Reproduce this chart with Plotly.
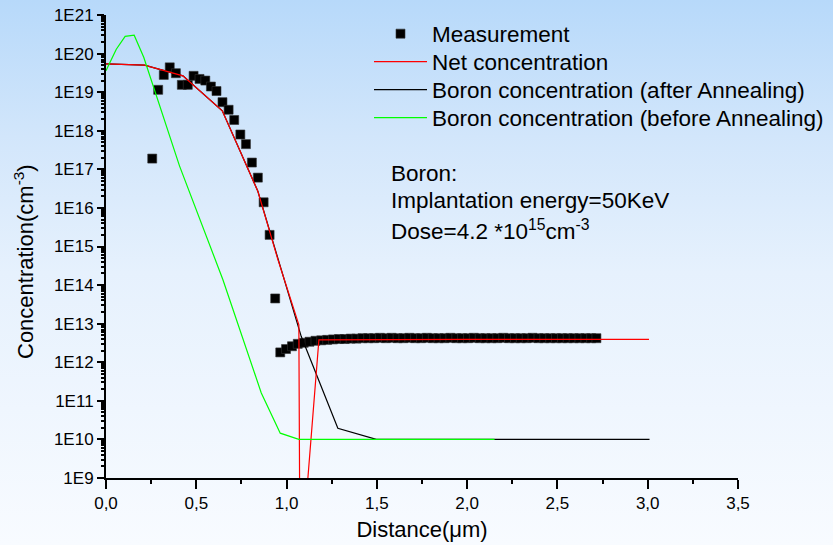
import base64
import plotly.graph_objects as go

# ---- measured profile (spreading resistance) ----
meas_x = [0.256, 0.289, 0.320, 0.353, 0.387, 0.420, 0.453, 0.485, 0.518, 0.550,
          0.581, 0.612, 0.645, 0.679, 0.710, 0.744, 0.775, 0.808, 0.841, 0.873,
          0.906, 0.937, 0.965, 0.997, 1.030, 1.062, 1.095, 1.127, 1.160, 1.192,
          1.225, 1.257, 1.290, 1.322, 1.355, 1.387, 1.420, 1.452, 1.485, 1.517,
          1.550, 1.582, 1.615, 1.647, 1.680, 1.712, 1.745, 1.777, 1.810, 1.842,
          1.875, 1.907, 1.940, 1.972, 2.005, 2.037, 2.070, 2.102, 2.135, 2.167,
          2.200, 2.232, 2.265, 2.297, 2.330, 2.362, 2.395, 2.427, 2.460, 2.492,
          2.525, 2.557, 2.590, 2.622, 2.655, 2.687, 2.716]
meas_y = [1.9e17, 1.15e19, 2.8e19, 4.4e19, 3.1e19, 1.55e19, 1.55e19, 2.65e19, 2.2e19, 2.0e19,
          1.4e19, 1.07e19, 5.5e18, 3.5e18, 1.9e18, 8.0e17, 4.5e17, 1.5e17, 6.1e16, 1.4e16,
          2.0e15, 4.5e13, 1.8e12, 2.2e12, 2.6e12, 3.0e12, 3.2e12, 3.4e12, 3.6e12, 3.7e12,
          3.8e12, 3.9e12, 4.0e12, 4.0e12, 4.1e12, 4.1e12, 4.2e12, 4.2e12, 4.2e12, 4.3e12,
          4.2e12, 4.3e12, 4.2e12, 4.2e12, 4.3e12, 4.2e12, 4.2e12, 4.3e12, 4.2e12, 4.2e12,
          4.2e12, 4.3e12, 4.2e12, 4.2e12, 4.2e12, 4.3e12, 4.2e12, 4.2e12, 4.2e12, 4.2e12,
          4.3e12, 4.2e12, 4.2e12, 4.2e12, 4.2e12, 4.3e12, 4.2e12, 4.2e12, 4.2e12, 4.2e12,
          4.2e12, 4.2e12, 4.2e12, 4.2e12, 4.2e12, 4.2e12, 4.2e12]

# ---- simulated net concentration ----
net_x = [0.0, 0.213, 0.426, 0.644, 0.841, 0.952, 1.068, 1.075, 1.100, 1.179, 2.0, 3.007]
net_y = [5.4e19, 5.0e19, 2.65e19, 3.3e18, 2.7e16, 4.6e14, 9.3e12, 1.0e6, 8.7e7, 3.8e12, 3.9e12, 3.9e12]

# ---- simulated boron after annealing ----
after_x = [0.0, 0.213, 0.426, 0.644, 0.841, 0.952, 1.081, 1.284, 1.497, 3.010]
after_y = [5.4e19, 5.0e19, 2.65e19, 3.3e18, 2.7e16, 4.6e14, 4.7e12, 1.95e10, 1.0e10, 1.0e10]

# ---- simulated boron before annealing (as implanted) ----
before_x = [0.0, 0.057, 0.106, 0.156, 0.209, 0.407, 0.647, 0.860, 0.965, 1.068, 2.152]
before_y = [3.6e19, 1.3e20, 2.8e20, 3.0e20, 8.0e19, 1.23e17, 1.4e14, 1.6e11, 1.45e10, 1.0e10, 1.0e10]

x_ticks = [0, 0.5, 1.0, 1.5, 2.0, 2.5, 3.0, 3.5]
x_minor = [0.25, 0.75, 1.25, 1.75, 2.25, 2.75, 3.25]
y_ticks = [10.0 ** e for e in range(9, 22)]
y_ticktext = ["1E%d" % e for e in range(9, 22)]
y_minor = [k * 10.0 ** e for e in range(9, 21) for k in range(2, 10)]

FONT = "Liberation Sans, Arial, sans-serif"
W, H = 833, 545
ML, MR, MT, MB = 106, 95, 15, 67
PW, PH = W - ML - MR, H - MT - MB

fig = go.Figure()

# drawing order: markers, boron after, net, boron before; each entry has its own legend box
fig.add_trace(go.Scatter(
    x=meas_x, y=meas_y, mode="markers", name="Measurement", legend="legend",
    marker=dict(symbol="square", size=9, color="black",
                line=dict(width=0.6, color="#333333")),
))
fig.add_trace(go.Scatter(
    x=after_x, y=after_y, mode="lines", name="Boron concentration (after Annealing)",
    legend="legend3", line=dict(color="black", width=1.2),
))
fig.add_trace(go.Scatter(
    x=net_x, y=net_y, mode="lines", name="Net concentration", legend="legend2",
    line=dict(color="#FF0000", width=1.2),
))
fig.add_trace(go.Scatter(
    x=before_x, y=before_y, mode="lines", name="Boron concentration (before Annealing)",
    legend="legend4", line=dict(color="#00FF00", width=1.2),
))
# empty trace that carries the overlay axes used for the minor tick marks
fig.add_trace(go.Scatter(x=[], y=[], xaxis="x2", yaxis="y2",
                         showlegend=False, hoverinfo="skip"))

# soft vertical blue-to-white backdrop
svg = (
    '<svg xmlns="http://www.w3.org/2000/svg" width="833" height="545" '
    'preserveAspectRatio="none" viewBox="0 0 833 545">'
    '<defs><linearGradient id="g" x1="0" y1="0" x2="0" y2="1">'
    '<stop offset="0" stop-color="#B7D9FA"/>'
    '<stop offset="0.25" stop-color="#D2E6FB"/>'
    '<stop offset="0.5" stop-color="#E6F1FD"/>'
    '<stop offset="1" stop-color="#F8FBFF"/>'
    '</linearGradient></defs>'
    '<rect x="0" y="0" width="833" height="545" fill="url(#g)"/></svg>'
)
bg_src = "data:image/svg+xml;base64," + base64.b64encode(svg.encode()).decode()

fig.add_layout_image(
    source=bg_src, xref="paper", yref="paper",
    x=-ML / PW, y=1 + MT / PH, sizex=W / PW, sizey=H / PH,
    xanchor="left", yanchor="top", sizing="stretch", layer="below",
)

annot_font = dict(family=FONT, size=22.5, color="black")
for txt, ypix in [("Boron:", 173),
                  ("Implantation energy=50KeV", 201),
                  ("Dose=4.2 *10<sup>15</sup>cm<sup>-3</sup>", 230)]:
    fig.add_annotation(
        text=txt, xref="paper", yref="paper",
        x=(389 - ML) / PW, y=1 - (ypix - MT) / PH,
        xanchor="left", yanchor="middle", showarrow=False, font=annot_font,
    )

# y-axis title
fig.add_annotation(
    text="Concentration(cm<sup>-3</sup>)", xref="paper", yref="paper",
    x=(24 - ML) / PW, y=1 - (262 - MT) / PH, textangle=-90,
    xanchor="center", yanchor="middle", showarrow=False,
    font=dict(family=FONT, size=22, color="black"),
)


def legend_box(top_px):
    return dict(
        xref="container", yref="container",
        x=369 / W, y=1 - top_px / H, xanchor="left", yanchor="top",
        bgcolor="rgba(0,0,0,0)", borderwidth=0,
        font=dict(family=FONT, size=22.5, color="black"),
        itemwidth=53,
    )


fig.update_layout(
    width=W, height=H,
    margin=dict(l=ML, r=MR, t=MT, b=MB, pad=0, autoexpand=False),
    paper_bgcolor="#F8FBFF",
    plot_bgcolor="rgba(0,0,0,0)",
    separators=",.",
    font=dict(family=FONT, color="black"),
    showlegend=True,
    legend=legend_box(12.5),
    legend2=legend_box(40.5),
    legend3=legend_box(68.5),
    legend4=legend_box(96.5),
    xaxis=dict(
        range=[0, 3.5], tickmode="array", tickvals=x_ticks,
        tickformat=".1f",
        ticks="outside", ticklen=9, tickwidth=2, tickcolor="black",
        showline=True, linewidth=2, linecolor="black",
        showgrid=False, zeroline=False,
        tickfont=dict(family=FONT, size=17, color="black"),
        title=dict(text="Distance(\u03bcm)", standoff=9,
                   font=dict(family=FONT, size=22, color="black")),
    ),
    yaxis=dict(
        type="log", range=[9, 21], tickmode="array",
        tickvals=y_ticks, ticktext=y_ticktext,
        ticks="outside", ticklen=7, tickwidth=2, tickcolor="black",
        showline=True, linewidth=2, linecolor="black",
        showgrid=False, zeroline=False,
        tickfont=dict(family=FONT, size=17, color="black"),
    ),
    # overlay axes: minor tick marks only
    xaxis2=dict(
        overlaying="x", matches="x", side="bottom", anchor="y2",
        tickmode="array", tickvals=x_minor, showticklabels=False,
        ticks="outside", ticklen=5, tickwidth=2, tickcolor="black",
        showline=False, showgrid=False, zeroline=False,
    ),
    yaxis2=dict(
        overlaying="y", type="log", range=[9, 21], side="left", anchor="x2",
        tickmode="array", tickvals=y_minor, showticklabels=False,
        ticks="outside", ticklen=4, tickwidth=1.5, tickcolor="black",
        showline=False, showgrid=False, zeroline=False,
    ),
)

fig.write_html("out.html")
